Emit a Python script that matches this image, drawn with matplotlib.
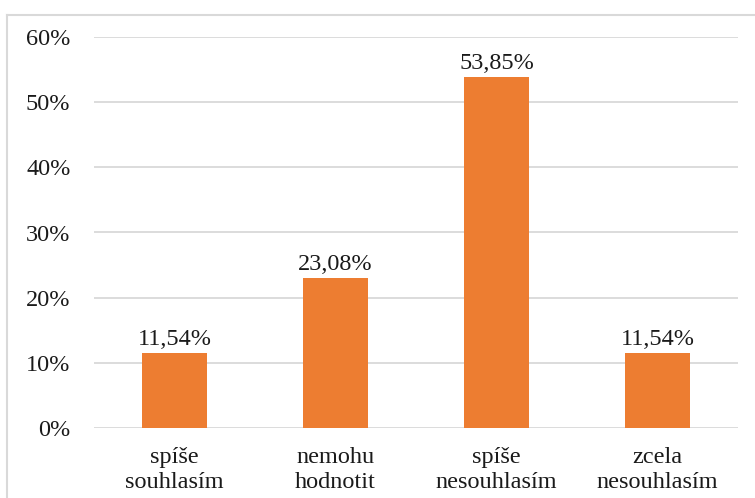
import matplotlib
matplotlib.use("Agg")
import matplotlib.pyplot as plt
from matplotlib.lines import Line2D
from matplotlib.ticker import FuncFormatter

categories = ["spíše\nsouhlasím", "nemohu\nhodnotit", "spíše\nnesouhlasím", "zcela\nnesouhlasím"]
values = [11.54, 23.08, 53.85, 11.54]
labels = ["11,54%", "23,08%", "53,85%", "11,54%"]

W, H = 755, 498
plt.rcParams["font.family"] = ["Liberation Serif", "DejaVu Serif"]
FS = 17.5

fig = plt.figure(figsize=(W / 100, H / 100), dpi=100)
ax = fig.add_axes([94 / W, 1 - 428 / H, (738 - 94) / W, (428 - 37) / H])

x = range(len(categories))
bars = ax.bar(x, values, width=0.4, color="#ED7D31", zorder=3)
for b, lab in zip(bars, labels):
    ax.annotate(lab, (b.get_x() + b.get_width() / 2, b.get_height()),
                xytext=(0, 2), textcoords="offset points",
                ha="center", va="bottom", fontsize=FS, color="#1a1a1a")

ax.set_xlim(-0.5, len(categories) - 0.5)
ax.set_ylim(0, 60)
ax.set_yticks(range(0, 61, 10))
ax.yaxis.set_major_formatter(FuncFormatter(lambda v, p: f"{v:.0f}%"))
ax.set_xticks(list(x))
ax.set_xticklabels(categories, fontsize=FS, color="#1a1a1a", linespacing=1.2)
ax.tick_params(axis="y", labelsize=FS, labelcolor="#1a1a1a", length=0, pad=17)
ax.tick_params(axis="x", length=0, pad=14)
ax.grid(axis="y", color="#d9d9d9", linewidth=1.3, zorder=0)
for s in ax.spines.values():
    s.set_visible(False)

# outer frame (top and left only visible)
fig.add_artist(Line2D([7 / W, 1], [1 - 15 / H, 1 - 15 / H], color="#d9d9d9", lw=1.5))
fig.add_artist(Line2D([7 / W, 7 / W], [0, 1 - 15 / H], color="#d9d9d9", lw=1.5))

fig.savefig("out.png", dpi=100, facecolor="white")
